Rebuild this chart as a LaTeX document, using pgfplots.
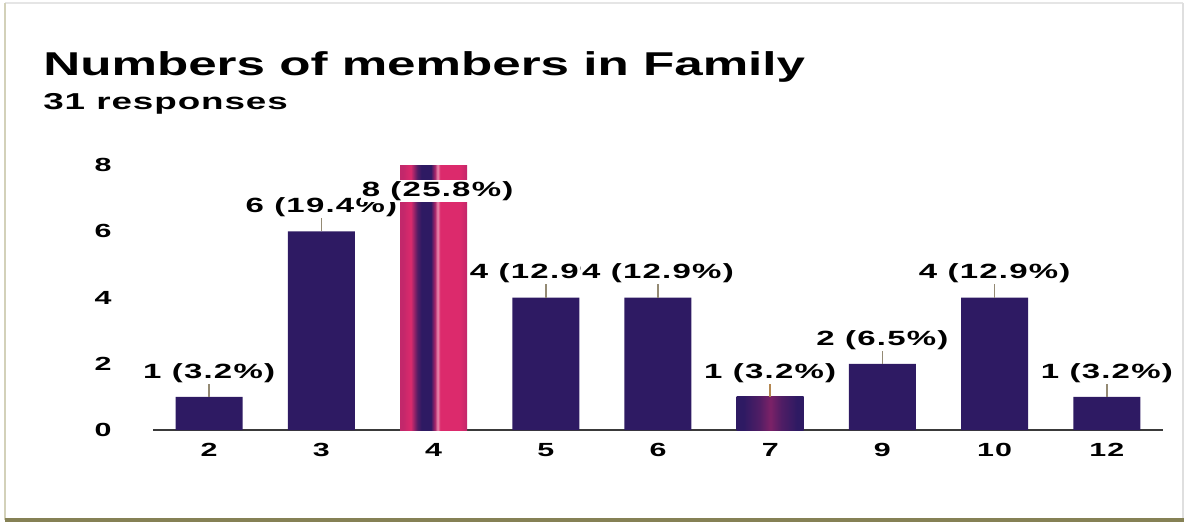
\documentclass[border=0pt]{standalone}
\usepackage{fontspec}
\setmainfont{Liberation Sans}[FakeStretch=1.55]
\newfontfamily\lblfont{Liberation Sans}[FakeStretch=1.6, LetterSpace=6]
\newfontfamily\subfont{Liberation Sans}[FakeStretch=1.6, LetterSpace=4]
\usepackage{pgfplots}
\pgfplotsset{compat=1.18}
\definecolor{barc}{HTML}{2E1A63}
\definecolor{pinkc}{HTML}{DC2A6C}
\definecolor{stemc}{HTML}{948A74}
\definecolor{axc}{HTML}{3A3A3A}
\pgfdeclarehorizontalshading{fourshade}{100bp}{color(0bp)=(pinkc!85!barc); color(27bp)=(pinkc!85!barc); color(33bp)=(pinkc); color(38bp)=(barc!80!pinkc); color(41bp)=(barc); color(48bp)=(barc); color(51bp)=(pinkc!70!barc); color(53bp)=(pinkc!55!white); color(55bp)=(pinkc); color(70bp)=(pinkc); color(75bp)=(pinkc!85!barc); color(100bp)=(pinkc!85!barc)}
\pgfdeclarehorizontalshading{sevenshade}{100bp}{color(0bp)=(barc); color(30bp)=(barc); color(42bp)=(barc!80!pinkc); color(50bp)=(barc!55!pinkc); color(58bp)=(barc!80!pinkc); color(70bp)=(barc); color(100bp)=(barc)}
\begin{document}
\begin{tikzpicture}
\useasboundingbox (0,0) rectangle (594.5pt,263pt);
% frame
\draw[color=gray!20, line width=0.6pt] (2.5pt,261.5pt) -- (591.5pt,261.5pt);
\draw[color=olive!30!gray!40, line width=1.2pt] (2.5pt,261.5pt) -- (2.5pt,3pt);
\draw[color=gray!25, line width=0.8pt] (591.5pt,261.5pt) -- (591.5pt,3pt);
\draw[color=olive!40!gray!90!black, line width=2pt] (2.5pt,3pt) -- (592pt,3pt);
% titles
\node[anchor=base west, inner sep=0pt, font=\fontsize{16.5}{19}\selectfont\bfseries] at (21.5pt,225pt) {Numbers of members in Family};
\node[anchor=base west, inner sep=0pt, font=\subfont\fontsize{11.5}{13}\selectfont\bfseries] at (21.5pt,208pt) {31 responses};
\begin{axis}[
  at={(76.5pt,48pt)}, anchor=south west,
  scale only axis, width=505pt, height=132.5pt,
  xmin=-0.5, xmax=8.5, ymin=0, ymax=8,
  ybar, bar width=33.5pt, bar shift=0pt,
  separate axis lines,
  axis x line*=bottom, axis y line*=left,
  x axis line style={axc, line width=0.8pt},
  y axis line style={draw=none},
  major tick length=0pt,
  xtick={0,...,8}, xticklabels={2,3,4,5,6,7,9,10,12},
  ytick={0,2,4,6,8},
  /pgf/number format/assume math mode=true,
  ticklabel style={font=\lblfont\fontsize{9.5}{11}\selectfont\bfseries, text=black},
  yticklabel style={anchor=east, inner sep=0pt, xshift=-20.5pt},
  xticklabel style={anchor=north, inner sep=0pt, yshift=-6.5pt},
  point meta=explicit symbolic,
  nodes near coords,
  every node near coord/.append style={anchor=center, yshift=12pt, fill=white, inner sep=0.6pt, font=\lblfont\fontsize{10.3}{12}\selectfont\bfseries, text=black},
  clip=true,
]
\addplot[draw=none, fill=barc,
  error bars/.cd, y dir=plus, y fixed=0.5, error mark=none,
  error bar style={stemc, line width=0.8pt}]
  coordinates {(0,1) [1 (3.2\%)] (1,6) [6 (19.4\%)] (3,4) [4 (12.9\%)] (4,4) [4 (12.9\%)] (6,2) [2 (6.5\%)] (7,4) [4 (12.9\%)] (8,1) [1 (3.2\%)]};
\addplot[draw=none, shading=sevenshade,
  error bars/.cd, y dir=plus, y fixed=0.5, error mark=none,
  error bar style={stemc!70!orange, line width=0.8pt}]
  coordinates {(5,1) [1 (3.2\%)]};
\addplot[draw=none, shading=fourshade,
  every node near coord/.append style={yshift=-25pt, xshift=2pt}]
  coordinates {(2,8) [8 (25.8\%)]};
\end{axis}
\end{tikzpicture}
\end{document}
